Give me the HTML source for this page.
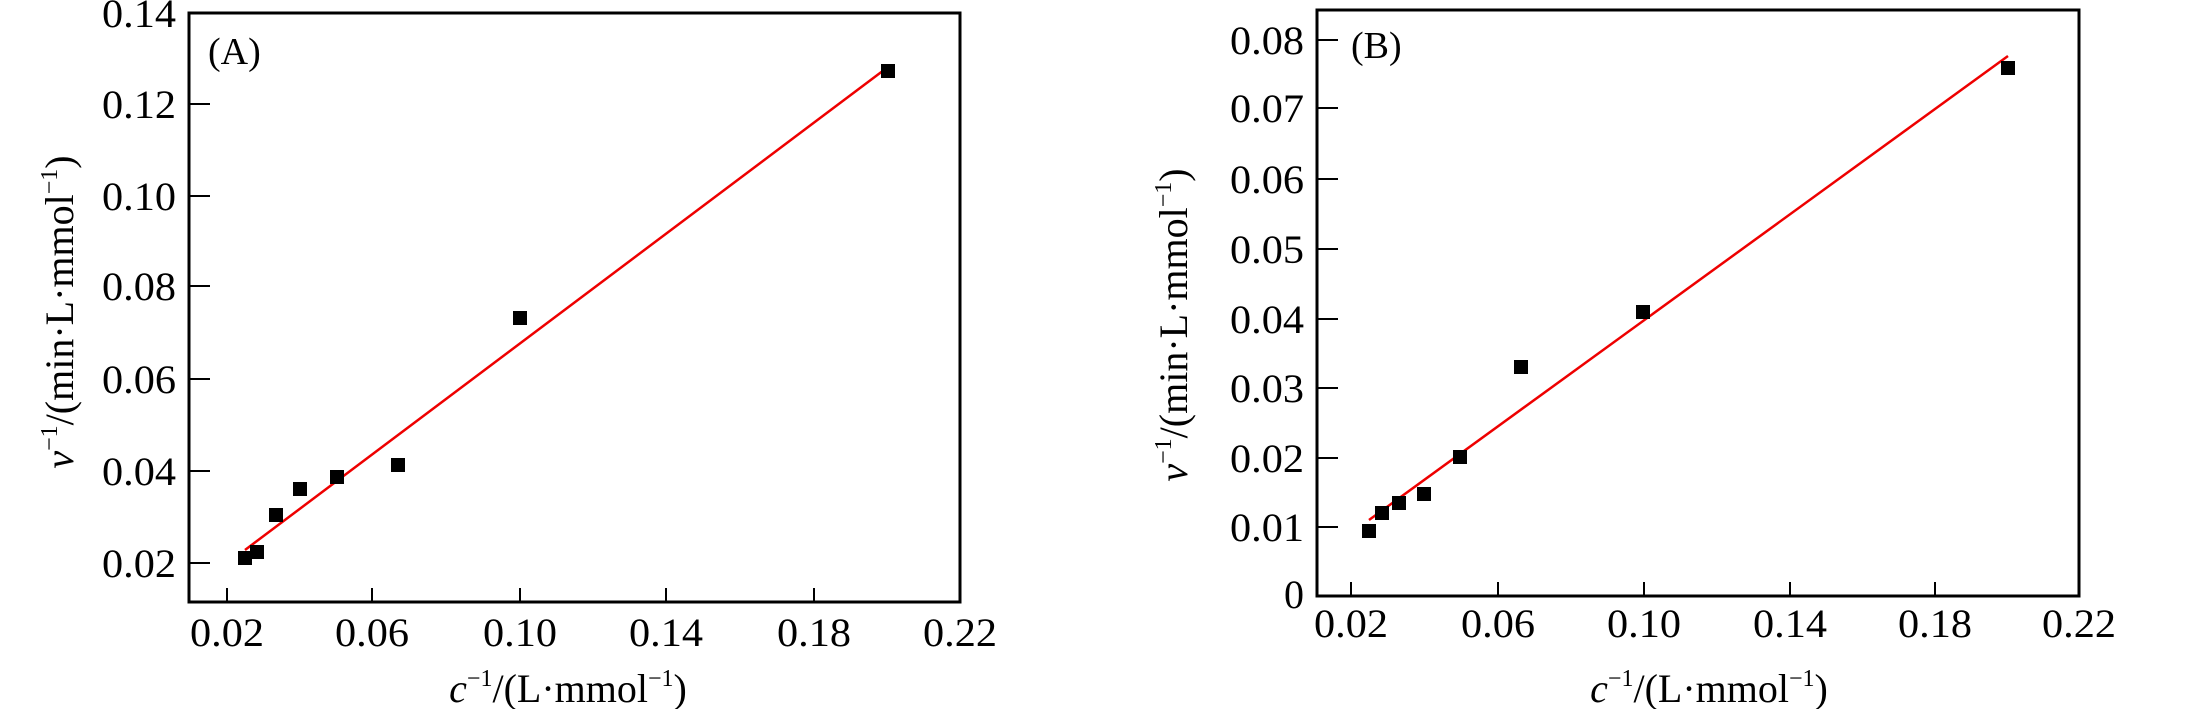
<!DOCTYPE html>
<html><head><meta charset="utf-8"><style>html,body{margin:0;padding:0;background:#fff}svg{display:block}</style></head>
<body>
<svg width="2205" height="709" viewBox="0 0 2205 709" xmlns="http://www.w3.org/2000/svg" font-family="Liberation Serif, serif" fill="#000">
<!-- Panel A -->
<rect x="189" y="13" width="771" height="589" fill="none" stroke="#000" stroke-width="3"/>
<g stroke="#000" stroke-width="2">
<line x1="227" y1="602" x2="227" y2="588"/><line x1="372" y1="602" x2="372" y2="588"/><line x1="520" y1="602" x2="520" y2="588"/><line x1="666" y1="602" x2="666" y2="588"/><line x1="814" y1="602" x2="814" y2="588"/>
<line x1="189" y1="104" x2="210" y2="104"/><line x1="189" y1="196" x2="210" y2="196"/><line x1="189" y1="286" x2="210" y2="286"/><line x1="189" y1="379" x2="210" y2="379"/><line x1="189" y1="471" x2="210" y2="471"/><line x1="189" y1="563" x2="210" y2="563"/>
</g>
<g font-size="40" text-anchor="middle">
<text x="227" y="646" textLength="74" lengthAdjust="spacingAndGlyphs">0.02</text>
<text x="372" y="646" textLength="74" lengthAdjust="spacingAndGlyphs">0.06</text>
<text x="520" y="646" textLength="74" lengthAdjust="spacingAndGlyphs">0.10</text>
<text x="666" y="646" textLength="74" lengthAdjust="spacingAndGlyphs">0.14</text>
<text x="814" y="646" textLength="74" lengthAdjust="spacingAndGlyphs">0.18</text>
<text x="960" y="646" textLength="74" lengthAdjust="spacingAndGlyphs">0.22</text>
</g>
<g font-size="40" text-anchor="end">
<text x="176" y="27" textLength="74" lengthAdjust="spacingAndGlyphs">0.14</text>
<text x="176" y="118" textLength="74" lengthAdjust="spacingAndGlyphs">0.12</text>
<text x="176" y="210" textLength="74" lengthAdjust="spacingAndGlyphs">0.10</text>
<text x="176" y="300" textLength="74" lengthAdjust="spacingAndGlyphs">0.08</text>
<text x="176" y="393" textLength="74" lengthAdjust="spacingAndGlyphs">0.06</text>
<text x="176" y="485" textLength="74" lengthAdjust="spacingAndGlyphs">0.04</text>
<text x="176" y="577" textLength="74" lengthAdjust="spacingAndGlyphs">0.02</text>
</g>
<text x="208" y="64" font-size="38">(A)</text>
<text x="568" y="702" font-size="40" text-anchor="middle"><tspan font-style="italic">c</tspan><tspan font-size="24" dy="-16">−1</tspan><tspan dy="16">/(L·mmol</tspan><tspan font-size="24" dy="-16">−1</tspan><tspan dy="16">)</tspan></text>
<text transform="translate(73,312) rotate(-90)" font-size="40" text-anchor="middle"><tspan font-style="italic">v</tspan><tspan font-size="24" dy="-16">−1</tspan><tspan dy="16">/(min·L·mmol</tspan><tspan font-size="24" dy="-16">−1</tspan><tspan dy="16">)</tspan></text>
<line x1="245" y1="550" x2="888" y2="67" stroke="#e00" stroke-width="2.5"/>
<g>
<rect x="238" y="551" width="14" height="14"/><rect x="250" y="545" width="14" height="14"/><rect x="269" y="508" width="14" height="14"/><rect x="293" y="482" width="14" height="14"/><rect x="330" y="470" width="14" height="14"/><rect x="391" y="458" width="14" height="14"/><rect x="513" y="311" width="14" height="14"/><rect x="881" y="64" width="14" height="14"/>
</g>
<!-- Panel B -->
<rect x="1317" y="10" width="762" height="586" fill="none" stroke="#000" stroke-width="3"/>
<g stroke="#000" stroke-width="2">
<line x1="1351" y1="596" x2="1351" y2="582"/><line x1="1498" y1="596" x2="1498" y2="582"/><line x1="1644" y1="596" x2="1644" y2="582"/><line x1="1790" y1="596" x2="1790" y2="582"/><line x1="1935" y1="596" x2="1935" y2="582"/>
<line x1="1317" y1="40" x2="1338" y2="40"/><line x1="1317" y1="108" x2="1338" y2="108"/><line x1="1317" y1="179" x2="1338" y2="179"/><line x1="1317" y1="249" x2="1338" y2="249"/><line x1="1317" y1="319" x2="1338" y2="319"/><line x1="1317" y1="388" x2="1338" y2="388"/><line x1="1317" y1="458" x2="1338" y2="458"/><line x1="1317" y1="527" x2="1338" y2="527"/>
</g>
<g font-size="40" text-anchor="middle">
<text x="1351" y="637" textLength="74" lengthAdjust="spacingAndGlyphs">0.02</text>
<text x="1498" y="637" textLength="74" lengthAdjust="spacingAndGlyphs">0.06</text>
<text x="1644" y="637" textLength="74" lengthAdjust="spacingAndGlyphs">0.10</text>
<text x="1790" y="637" textLength="74" lengthAdjust="spacingAndGlyphs">0.14</text>
<text x="1935" y="637" textLength="74" lengthAdjust="spacingAndGlyphs">0.18</text>
<text x="2079" y="637" textLength="74" lengthAdjust="spacingAndGlyphs">0.22</text>
</g>
<g font-size="40" text-anchor="end">
<text x="1304" y="54" textLength="74" lengthAdjust="spacingAndGlyphs">0.08</text>
<text x="1304" y="122" textLength="74" lengthAdjust="spacingAndGlyphs">0.07</text>
<text x="1304" y="193" textLength="74" lengthAdjust="spacingAndGlyphs">0.06</text>
<text x="1304" y="263" textLength="74" lengthAdjust="spacingAndGlyphs">0.05</text>
<text x="1304" y="333" textLength="74" lengthAdjust="spacingAndGlyphs">0.04</text>
<text x="1304" y="402" textLength="74" lengthAdjust="spacingAndGlyphs">0.03</text>
<text x="1304" y="472" textLength="74" lengthAdjust="spacingAndGlyphs">0.02</text>
<text x="1304" y="541" textLength="74" lengthAdjust="spacingAndGlyphs">0.01</text>
<text x="1304" y="608">0</text>
</g>
<text x="1351" y="58" font-size="38">(B)</text>
<text x="1709" y="702" font-size="40" text-anchor="middle"><tspan font-style="italic">c</tspan><tspan font-size="24" dy="-16">−1</tspan><tspan dy="16">/(L·mmol</tspan><tspan font-size="24" dy="-16">−1</tspan><tspan dy="16">)</tspan></text>
<text transform="translate(1187,325) rotate(-90)" font-size="40" text-anchor="middle"><tspan font-style="italic">v</tspan><tspan font-size="24" dy="-16">−1</tspan><tspan dy="16">/(min·L·mmol</tspan><tspan font-size="24" dy="-16">−1</tspan><tspan dy="16">)</tspan></text>
<line x1="1369" y1="520" x2="2008" y2="56" stroke="#e00" stroke-width="2.5"/>
<g>
<rect x="1362" y="524" width="14" height="14"/><rect x="1375" y="506" width="14" height="14"/><rect x="1392" y="496" width="14" height="14"/><rect x="1417" y="487" width="14" height="14"/><rect x="1453" y="450" width="14" height="14"/><rect x="1514" y="360" width="14" height="14"/><rect x="1636" y="305" width="14" height="14"/><rect x="2001" y="61" width="14" height="14"/>
</g>
</svg>
</body></html>
